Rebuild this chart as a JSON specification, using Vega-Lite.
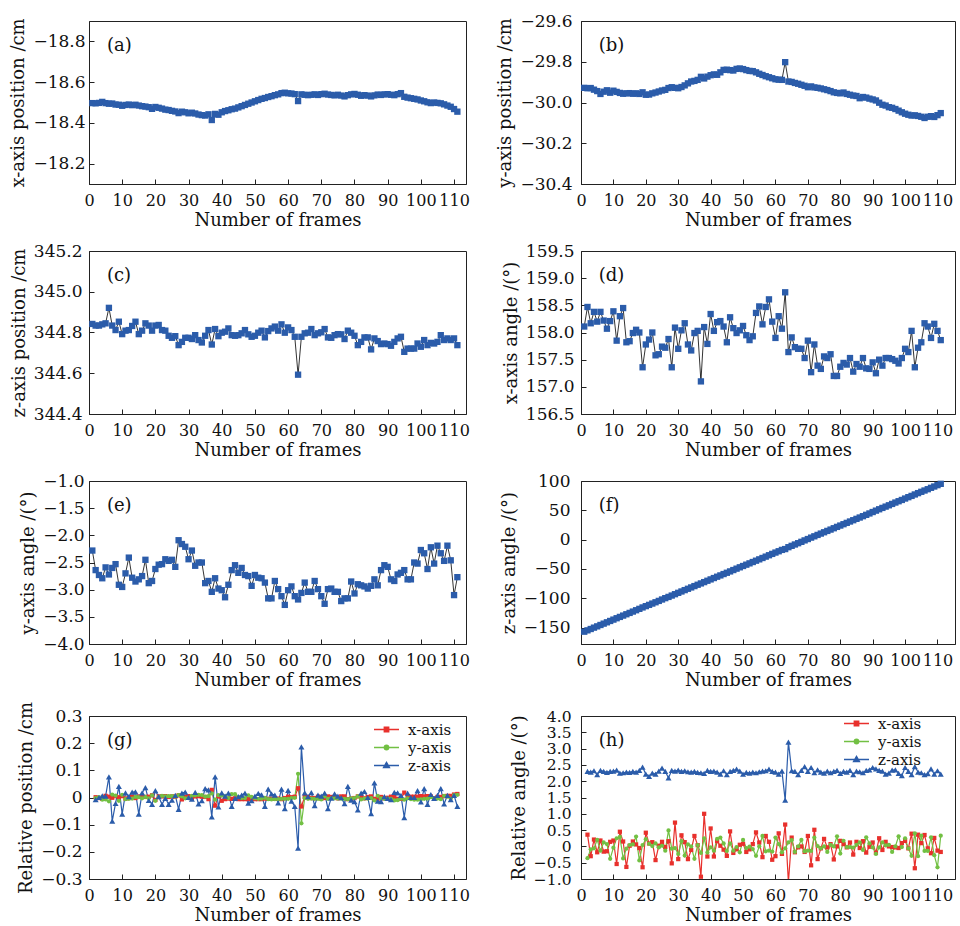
{
"$schema":"https://vega.github.io/schema/vega-lite/v6.json",
"padding":{"left":9,"top":11,"right":3,"bottom":0},
"background":"white",
"datasets":{
"pose":[
{"frame":1,"xpos":-18.497,"ypos":-29.928,"zpos":344.842,"xang":158.11,"yang":-2.28,"zang":-157.00},
{"frame":2,"xpos":-18.496,"ypos":-29.930,"zpos":344.834,"xang":158.47,"yang":-2.64,"zang":-154.70},
{"frame":3,"xpos":-18.498,"ypos":-29.929,"zpos":344.834,"xang":158.17,"yang":-2.73,"zang":-152.42},
{"frame":4,"xpos":-18.503,"ypos":-29.937,"zpos":344.840,"xang":158.38,"yang":-2.79,"zang":-150.10},
{"frame":5,"xpos":-18.497,"ypos":-29.944,"zpos":344.845,"xang":158.20,"yang":-2.59,"zang":-147.90},
{"frame":6,"xpos":-18.494,"ypos":-29.958,"zpos":344.921,"xang":158.38,"yang":-2.72,"zang":-145.57},
{"frame":7,"xpos":-18.495,"ypos":-29.947,"zpos":344.834,"xang":158.22,"yang":-2.60,"zang":-143.27},
{"frame":8,"xpos":-18.490,"ypos":-29.940,"zpos":344.812,"xang":158.07,"yang":-2.53,"zang":-141.00},
{"frame":9,"xpos":-18.489,"ypos":-29.952,"zpos":344.853,"xang":158.21,"yang":-2.91,"zang":-138.70},
{"frame":10,"xpos":-18.484,"ypos":-29.942,"zpos":344.792,"xang":158.39,"yang":-2.95,"zang":-136.39},
{"frame":11,"xpos":-18.488,"ypos":-29.948,"zpos":344.809,"xang":157.85,"yang":-2.70,"zang":-134.05},
{"frame":12,"xpos":-18.490,"ypos":-29.953,"zpos":344.812,"xang":158.30,"yang":-2.41,"zang":-131.80},
{"frame":13,"xpos":-18.487,"ypos":-29.957,"zpos":344.832,"xang":158.45,"yang":-2.78,"zang":-129.54},
{"frame":14,"xpos":-18.489,"ypos":-29.955,"zpos":344.853,"xang":157.82,"yang":-2.85,"zang":-127.26},
{"frame":15,"xpos":-18.485,"ypos":-29.954,"zpos":344.792,"xang":157.84,"yang":-2.81,"zang":-124.99},
{"frame":16,"xpos":-18.482,"ypos":-29.957,"zpos":344.809,"xang":157.99,"yang":-2.75,"zang":-122.69},
{"frame":17,"xpos":-18.480,"ypos":-29.955,"zpos":344.845,"xang":158.05,"yang":-2.45,"zang":-120.41},
{"frame":18,"xpos":-18.477,"ypos":-29.958,"zpos":344.834,"xang":158.00,"yang":-2.88,"zang":-118.08},
{"frame":19,"xpos":-18.469,"ypos":-29.950,"zpos":344.809,"xang":157.36,"yang":-2.84,"zang":-115.65},
{"frame":20,"xpos":-18.478,"ypos":-29.962,"zpos":344.834,"xang":157.78,"yang":-2.62,"zang":-113.43},
{"frame":21,"xpos":-18.474,"ypos":-29.961,"zpos":344.837,"xang":157.87,"yang":-2.54,"zang":-111.28},
{"frame":22,"xpos":-18.470,"ypos":-29.955,"zpos":344.812,"xang":158.00,"yang":-2.53,"zang":-109.03},
{"frame":23,"xpos":-18.465,"ypos":-29.951,"zpos":344.809,"xang":157.58,"yang":-2.44,"zang":-106.81},
{"frame":24,"xpos":-18.463,"ypos":-29.946,"zpos":344.784,"xang":157.60,"yang":-2.47,"zang":-104.50},
{"frame":25,"xpos":-18.459,"ypos":-29.941,"zpos":344.774,"xang":157.74,"yang":-2.45,"zang":-102.10},
{"frame":26,"xpos":-18.456,"ypos":-29.938,"zpos":344.782,"xang":157.72,"yang":-2.58,"zang":-99.80},
{"frame":27,"xpos":-18.448,"ypos":-29.929,"zpos":344.738,"xang":157.88,"yang":-2.09,"zang":-97.70},
{"frame":28,"xpos":-18.455,"ypos":-29.925,"zpos":344.754,"xang":157.36,"yang":-2.16,"zang":-95.37},
{"frame":29,"xpos":-18.452,"ypos":-29.928,"zpos":344.774,"xang":158.09,"yang":-2.21,"zang":-93.06},
{"frame":30,"xpos":-18.447,"ypos":-29.930,"zpos":344.774,"xang":157.70,"yang":-2.44,"zang":-90.72},
{"frame":31,"xpos":-18.450,"ypos":-29.924,"zpos":344.768,"xang":158.04,"yang":-2.28,"zang":-88.42},
{"frame":32,"xpos":-18.446,"ypos":-29.916,"zpos":344.787,"xang":158.17,"yang":-2.56,"zang":-86.10},
{"frame":33,"xpos":-18.441,"ypos":-29.906,"zpos":344.763,"xang":157.78,"yang":-2.50,"zang":-83.81},
{"frame":34,"xpos":-18.438,"ypos":-29.897,"zpos":344.751,"xang":157.67,"yang":-2.50,"zang":-81.53},
{"frame":35,"xpos":-18.436,"ypos":-29.894,"zpos":344.784,"xang":157.99,"yang":-2.88,"zang":-79.23},
{"frame":36,"xpos":-18.442,"ypos":-29.889,"zpos":344.812,"xang":158.03,"yang":-2.84,"zang":-76.96},
{"frame":37,"xpos":-18.414,"ypos":-29.874,"zpos":344.741,"xang":157.10,"yang":-3.04,"zang":-74.70},
{"frame":38,"xpos":-18.444,"ypos":-29.882,"zpos":344.817,"xang":158.10,"yang":-2.79,"zang":-72.46},
{"frame":39,"xpos":-18.440,"ypos":-29.873,"zpos":344.782,"xang":157.79,"yang":-2.98,"zang":-70.13},
{"frame":40,"xpos":-18.452,"ypos":-29.866,"zpos":344.799,"xang":158.34,"yang":-3.01,"zang":-67.83},
{"frame":41,"xpos":-18.458,"ypos":-29.862,"zpos":344.804,"xang":158.03,"yang":-3.14,"zang":-65.52},
{"frame":42,"xpos":-18.462,"ypos":-29.864,"zpos":344.820,"xang":158.19,"yang":-2.91,"zang":-63.24},
{"frame":43,"xpos":-18.467,"ypos":-29.852,"zpos":344.787,"xang":158.21,"yang":-2.64,"zang":-61.02},
{"frame":44,"xpos":-18.470,"ypos":-29.840,"zpos":344.784,"xang":158.11,"yang":-2.55,"zang":-58.70},
{"frame":45,"xpos":-18.476,"ypos":-29.839,"zpos":344.787,"xang":157.82,"yang":-2.69,"zang":-56.50},
{"frame":46,"xpos":-18.482,"ypos":-29.841,"zpos":344.796,"xang":158.28,"yang":-2.60,"zang":-54.20},
{"frame":47,"xpos":-18.488,"ypos":-29.843,"zpos":344.812,"xang":158.08,"yang":-2.73,"zang":-51.87},
{"frame":48,"xpos":-18.494,"ypos":-29.835,"zpos":344.791,"xang":157.99,"yang":-2.75,"zang":-49.50},
{"frame":49,"xpos":-18.500,"ypos":-29.833,"zpos":344.779,"xang":158.04,"yang":-2.93,"zang":-47.19},
{"frame":50,"xpos":-18.506,"ypos":-29.836,"zpos":344.784,"xang":158.12,"yang":-2.73,"zang":-44.97},
{"frame":51,"xpos":-18.512,"ypos":-29.841,"zpos":344.799,"xang":157.95,"yang":-2.78,"zang":-42.70},
{"frame":52,"xpos":-18.518,"ypos":-29.845,"zpos":344.809,"xang":157.86,"yang":-2.79,"zang":-40.45},
{"frame":53,"xpos":-18.522,"ypos":-29.846,"zpos":344.776,"xang":157.93,"yang":-2.87,"zang":-38.17},
{"frame":54,"xpos":-18.527,"ypos":-29.852,"zpos":344.807,"xang":158.36,"yang":-3.16,"zang":-35.91},
{"frame":55,"xpos":-18.531,"ypos":-29.859,"zpos":344.820,"xang":158.48,"yang":-3.16,"zang":-33.62},
{"frame":56,"xpos":-18.536,"ypos":-29.865,"zpos":344.829,"xang":158.15,"yang":-2.84,"zang":-31.31},
{"frame":57,"xpos":-18.540,"ypos":-29.871,"zpos":344.809,"xang":158.47,"yang":-2.99,"zang":-28.99},
{"frame":58,"xpos":-18.546,"ypos":-29.876,"zpos":344.840,"xang":158.61,"yang":-3.12,"zang":-26.62},
{"frame":59,"xpos":-18.548,"ypos":-29.881,"zpos":344.799,"xang":158.20,"yang":-3.28,"zang":-24.32},
{"frame":60,"xpos":-18.545,"ypos":-29.886,"zpos":344.825,"xang":157.90,"yang":-3.01,"zang":-22.04},
{"frame":61,"xpos":-18.544,"ypos":-29.888,"zpos":344.812,"xang":158.30,"yang":-2.94,"zang":-19.82},
{"frame":62,"xpos":-18.541,"ypos":-29.889,"zpos":344.779,"xang":158.07,"yang":-3.12,"zang":-17.51},
{"frame":63,"xpos":-18.507,"ypos":-29.802,"zpos":344.593,"xang":158.74,"yang":-3.18,"zang":-16.09},
{"frame":64,"xpos":-18.540,"ypos":-29.897,"zpos":344.779,"xang":157.64,"yang":-3.06,"zang":-12.89},
{"frame":65,"xpos":-18.538,"ypos":-29.899,"zpos":344.796,"xang":157.91,"yang":-2.87,"zang":-10.57},
{"frame":66,"xpos":-18.536,"ypos":-29.904,"zpos":344.799,"xang":157.73,"yang":-3.04,"zang":-8.27},
{"frame":67,"xpos":-18.538,"ypos":-29.908,"zpos":344.817,"xang":157.70,"yang":-3.04,"zang":-6.07},
{"frame":68,"xpos":-18.540,"ypos":-29.913,"zpos":344.787,"xang":157.70,"yang":-2.84,"zang":-3.74},
{"frame":69,"xpos":-18.537,"ypos":-29.918,"zpos":344.796,"xang":157.53,"yang":-2.99,"zang":-1.29},
{"frame":70,"xpos":-18.541,"ypos":-29.925,"zpos":344.801,"xang":157.85,"yang":-3.12,"zang":1.01},
{"frame":71,"xpos":-18.543,"ypos":-29.921,"zpos":344.817,"xang":157.27,"yang":-3.26,"zang":3.43},
{"frame":72,"xpos":-18.539,"ypos":-29.926,"zpos":344.776,"xang":157.78,"yang":-2.99,"zang":5.69},
{"frame":73,"xpos":-18.537,"ypos":-29.928,"zpos":344.774,"xang":157.39,"yang":-2.98,"zang":8.04},
{"frame":74,"xpos":-18.535,"ypos":-29.931,"zpos":344.787,"xang":157.33,"yang":-3.04,"zang":10.32},
{"frame":75,"xpos":-18.538,"ypos":-29.935,"zpos":344.792,"xang":157.56,"yang":-3.04,"zang":12.57},
{"frame":76,"xpos":-18.534,"ypos":-29.939,"zpos":344.791,"xang":157.53,"yang":-3.21,"zang":14.88},
{"frame":77,"xpos":-18.530,"ypos":-29.944,"zpos":344.768,"xang":157.60,"yang":-3.16,"zang":17.14},
{"frame":78,"xpos":-18.536,"ypos":-29.950,"zpos":344.809,"xang":157.20,"yang":-3.16,"zang":19.44},
{"frame":79,"xpos":-18.540,"ypos":-29.953,"zpos":344.799,"xang":157.20,"yang":-2.85,"zang":21.77},
{"frame":80,"xpos":-18.542,"ypos":-29.955,"zpos":344.784,"xang":157.37,"yang":-3.07,"zang":24.01},
{"frame":81,"xpos":-18.538,"ypos":-29.951,"zpos":344.738,"xang":157.44,"yang":-2.90,"zang":26.31},
{"frame":82,"xpos":-18.533,"ypos":-29.958,"zpos":344.754,"xang":157.41,"yang":-2.92,"zang":28.59},
{"frame":83,"xpos":-18.536,"ypos":-29.962,"zpos":344.776,"xang":157.53,"yang":-2.94,"zang":30.92},
{"frame":84,"xpos":-18.534,"ypos":-29.966,"zpos":344.776,"xang":157.28,"yang":-2.98,"zang":33.12},
{"frame":85,"xpos":-18.530,"ypos":-29.968,"zpos":344.717,"xang":157.42,"yang":-2.93,"zang":35.43},
{"frame":86,"xpos":-18.535,"ypos":-29.979,"zpos":344.771,"xang":157.37,"yang":-2.81,"zang":37.72},
{"frame":87,"xpos":-18.539,"ypos":-29.973,"zpos":344.758,"xang":157.53,"yang":-2.92,"zang":39.98},
{"frame":88,"xpos":-18.537,"ypos":-29.976,"zpos":344.743,"xang":157.34,"yang":-2.64,"zang":42.31},
{"frame":89,"xpos":-18.540,"ypos":-29.981,"zpos":344.746,"xang":157.33,"yang":-2.55,"zang":44.66},
{"frame":90,"xpos":-18.541,"ypos":-29.985,"zpos":344.743,"xang":157.45,"yang":-2.58,"zang":47.08},
{"frame":91,"xpos":-18.538,"ypos":-29.990,"zpos":344.735,"xang":157.25,"yang":-2.81,"zang":49.46},
{"frame":92,"xpos":-18.536,"ypos":-30.001,"zpos":344.754,"xang":157.50,"yang":-2.84,"zang":51.79},
{"frame":93,"xpos":-18.541,"ypos":-30.011,"zpos":344.771,"xang":157.39,"yang":-2.72,"zang":54.10},
{"frame":94,"xpos":-18.546,"ypos":-30.015,"zpos":344.779,"xang":157.53,"yang":-2.69,"zang":56.32},
{"frame":95,"xpos":-18.528,"ypos":-30.023,"zpos":344.705,"xang":157.53,"yang":-2.64,"zang":58.57},
{"frame":96,"xpos":-18.524,"ypos":-30.026,"zpos":344.721,"xang":157.51,"yang":-2.81,"zang":60.91},
{"frame":97,"xpos":-18.521,"ypos":-30.032,"zpos":344.721,"xang":157.48,"yang":-2.81,"zang":63.26},
{"frame":98,"xpos":-18.518,"ypos":-30.040,"zpos":344.721,"xang":157.43,"yang":-2.50,"zang":65.50},
{"frame":99,"xpos":-18.515,"ypos":-30.048,"zpos":344.746,"xang":157.53,"yang":-2.52,"zang":67.67},
{"frame":100,"xpos":-18.510,"ypos":-30.055,"zpos":344.730,"xang":157.70,"yang":-2.27,"zang":70.09},
{"frame":101,"xpos":-18.506,"ypos":-30.060,"zpos":344.763,"xang":157.64,"yang":-2.33,"zang":72.39},
{"frame":102,"xpos":-18.501,"ypos":-30.064,"zpos":344.738,"xang":158.03,"yang":-2.62,"zang":74.59},
{"frame":103,"xpos":-18.497,"ypos":-30.063,"zpos":344.749,"xang":157.36,"yang":-2.22,"zang":77.04},
{"frame":104,"xpos":-18.500,"ypos":-30.066,"zpos":344.746,"xang":157.72,"yang":-2.52,"zang":79.32},
{"frame":105,"xpos":-18.498,"ypos":-30.070,"zpos":344.754,"xang":157.82,"yang":-2.19,"zang":81.58},
{"frame":106,"xpos":-18.496,"ypos":-30.076,"zpos":344.787,"xang":158.17,"yang":-2.33,"zang":83.78},
{"frame":107,"xpos":-18.491,"ypos":-30.070,"zpos":344.763,"xang":158.11,"yang":-2.47,"zang":86.01},
{"frame":108,"xpos":-18.485,"ypos":-30.067,"zpos":344.771,"xang":157.90,"yang":-2.19,"zang":88.39},
{"frame":109,"xpos":-18.479,"ypos":-30.071,"zpos":344.763,"xang":158.16,"yang":-2.46,"zang":90.61},
{"frame":110,"xpos":-18.468,"ypos":-30.062,"zpos":344.771,"xang":158.03,"yang":-3.10,"zang":92.93},
{"frame":111,"xpos":-18.455,"ypos":-30.052,"zpos":344.738,"xang":157.86,"yang":-2.77,"zang":95.15}
],
"rel":[
{"frame":2,"axis":"x-axis","pos":0.001,"ang":0.36},{"frame":3,"axis":"x-axis","pos":-0.002,"ang":-0.30},{"frame":4,"axis":"x-axis","pos":-0.005,"ang":0.21},{"frame":5,"axis":"x-axis","pos":0.006,"ang":-0.18},{"frame":6,"axis":"x-axis","pos":0.003,"ang":0.18},{"frame":7,"axis":"x-axis","pos":-0.001,"ang":-0.16},{"frame":8,"axis":"x-axis","pos":0.005,"ang":-0.15},{"frame":9,"axis":"x-axis","pos":0.001,"ang":0.14},{"frame":10,"axis":"x-axis","pos":0.005,"ang":0.18},
{"frame":11,"axis":"x-axis","pos":-0.004,"ang":-0.54},{"frame":12,"axis":"x-axis","pos":-0.002,"ang":0.45},{"frame":13,"axis":"x-axis","pos":0.003,"ang":0.15},{"frame":14,"axis":"x-axis","pos":-0.002,"ang":-0.63},{"frame":15,"axis":"x-axis","pos":0.004,"ang":0.02},{"frame":16,"axis":"x-axis","pos":0.003,"ang":0.15},{"frame":17,"axis":"x-axis","pos":0.002,"ang":0.06},{"frame":18,"axis":"x-axis","pos":0.003,"ang":-0.05},{"frame":19,"axis":"x-axis","pos":0.008,"ang":-0.64},{"frame":20,"axis":"x-axis","pos":-0.009,"ang":0.42},
{"frame":21,"axis":"x-axis","pos":0.004,"ang":0.09},{"frame":22,"axis":"x-axis","pos":0.004,"ang":0.13},{"frame":23,"axis":"x-axis","pos":0.005,"ang":-0.42},{"frame":24,"axis":"x-axis","pos":0.002,"ang":0.02},{"frame":25,"axis":"x-axis","pos":0.004,"ang":0.14},{"frame":26,"axis":"x-axis","pos":0.003,"ang":-0.02},{"frame":27,"axis":"x-axis","pos":0.008,"ang":0.16},{"frame":28,"axis":"x-axis","pos":-0.007,"ang":-0.52},{"frame":29,"axis":"x-axis","pos":0.003,"ang":0.73},{"frame":30,"axis":"x-axis","pos":0.005,"ang":-0.39},
{"frame":31,"axis":"x-axis","pos":-0.003,"ang":0.34},{"frame":32,"axis":"x-axis","pos":0.004,"ang":0.13},{"frame":33,"axis":"x-axis","pos":0.005,"ang":-0.39},{"frame":34,"axis":"x-axis","pos":0.003,"ang":-0.11},{"frame":35,"axis":"x-axis","pos":0.002,"ang":0.32},{"frame":36,"axis":"x-axis","pos":-0.006,"ang":0.04},{"frame":37,"axis":"x-axis","pos":0.028,"ang":-0.93},{"frame":38,"axis":"x-axis","pos":-0.030,"ang":1.00},{"frame":39,"axis":"x-axis","pos":0.004,"ang":-0.31},{"frame":40,"axis":"x-axis","pos":-0.012,"ang":0.55},
{"frame":41,"axis":"x-axis","pos":-0.006,"ang":-0.31},{"frame":42,"axis":"x-axis","pos":-0.004,"ang":0.16},{"frame":43,"axis":"x-axis","pos":-0.005,"ang":0.02},{"frame":44,"axis":"x-axis","pos":-0.003,"ang":-0.10},{"frame":45,"axis":"x-axis","pos":-0.006,"ang":-0.29},{"frame":46,"axis":"x-axis","pos":-0.006,"ang":0.46},{"frame":47,"axis":"x-axis","pos":-0.006,"ang":-0.20},{"frame":48,"axis":"x-axis","pos":-0.006,"ang":-0.09},{"frame":49,"axis":"x-axis","pos":-0.006,"ang":0.05},{"frame":50,"axis":"x-axis","pos":-0.006,"ang":0.08},
{"frame":51,"axis":"x-axis","pos":-0.006,"ang":-0.17},{"frame":52,"axis":"x-axis","pos":-0.006,"ang":-0.09},{"frame":53,"axis":"x-axis","pos":-0.004,"ang":0.07},{"frame":54,"axis":"x-axis","pos":-0.005,"ang":0.43},{"frame":55,"axis":"x-axis","pos":-0.004,"ang":0.12},{"frame":56,"axis":"x-axis","pos":-0.005,"ang":-0.33},{"frame":57,"axis":"x-axis","pos":-0.004,"ang":0.32},{"frame":58,"axis":"x-axis","pos":-0.006,"ang":0.14},{"frame":59,"axis":"x-axis","pos":-0.002,"ang":-0.41},{"frame":60,"axis":"x-axis","pos":0.003,"ang":-0.30},
{"frame":61,"axis":"x-axis","pos":0.001,"ang":0.40},{"frame":62,"axis":"x-axis","pos":0.003,"ang":-0.23},{"frame":63,"axis":"x-axis","pos":0.034,"ang":0.67},{"frame":64,"axis":"x-axis","pos":-0.033,"ang":-1.10},{"frame":65,"axis":"x-axis","pos":0.002,"ang":0.27},{"frame":66,"axis":"x-axis","pos":0.002,"ang":-0.18},{"frame":67,"axis":"x-axis","pos":-0.002,"ang":-0.03},{"frame":68,"axis":"x-axis","pos":-0.002,"ang":0.00},{"frame":69,"axis":"x-axis","pos":0.003,"ang":-0.17},{"frame":70,"axis":"x-axis","pos":-0.004,"ang":0.32},
{"frame":71,"axis":"x-axis","pos":-0.002,"ang":-0.58},{"frame":72,"axis":"x-axis","pos":0.004,"ang":0.51},{"frame":73,"axis":"x-axis","pos":0.002,"ang":-0.39},{"frame":74,"axis":"x-axis","pos":0.002,"ang":-0.06},{"frame":75,"axis":"x-axis","pos":-0.003,"ang":0.23},{"frame":76,"axis":"x-axis","pos":0.004,"ang":-0.03},{"frame":77,"axis":"x-axis","pos":0.004,"ang":0.07},{"frame":78,"axis":"x-axis","pos":-0.006,"ang":-0.40},{"frame":79,"axis":"x-axis","pos":-0.004,"ang":0.00},{"frame":80,"axis":"x-axis","pos":-0.002,"ang":0.17},
{"frame":81,"axis":"x-axis","pos":0.004,"ang":0.07},{"frame":82,"axis":"x-axis","pos":0.005,"ang":-0.03},{"frame":83,"axis":"x-axis","pos":-0.003,"ang":0.12},{"frame":84,"axis":"x-axis","pos":0.002,"ang":-0.25},{"frame":85,"axis":"x-axis","pos":0.004,"ang":0.14},{"frame":86,"axis":"x-axis","pos":-0.005,"ang":-0.05},{"frame":87,"axis":"x-axis","pos":-0.004,"ang":0.16},{"frame":88,"axis":"x-axis","pos":0.002,"ang":-0.19},{"frame":89,"axis":"x-axis","pos":-0.003,"ang":-0.01},{"frame":90,"axis":"x-axis","pos":-0.001,"ang":0.12},
{"frame":91,"axis":"x-axis","pos":0.003,"ang":-0.20},{"frame":92,"axis":"x-axis","pos":0.002,"ang":0.25},{"frame":93,"axis":"x-axis","pos":-0.005,"ang":-0.11},{"frame":94,"axis":"x-axis","pos":-0.005,"ang":0.14},{"frame":95,"axis":"x-axis","pos":0.018,"ang":0.00},{"frame":96,"axis":"x-axis","pos":0.004,"ang":-0.02},{"frame":97,"axis":"x-axis","pos":0.003,"ang":-0.03},{"frame":98,"axis":"x-axis","pos":0.003,"ang":-0.05},{"frame":99,"axis":"x-axis","pos":0.003,"ang":0.10},{"frame":100,"axis":"x-axis","pos":0.005,"ang":0.17},
{"frame":101,"axis":"x-axis","pos":0.004,"ang":-0.06},{"frame":102,"axis":"x-axis","pos":0.005,"ang":0.39},{"frame":103,"axis":"x-axis","pos":0.004,"ang":-0.67},{"frame":104,"axis":"x-axis","pos":-0.003,"ang":0.36},{"frame":105,"axis":"x-axis","pos":0.002,"ang":0.10},{"frame":106,"axis":"x-axis","pos":0.002,"ang":0.35},{"frame":107,"axis":"x-axis","pos":0.005,"ang":-0.06},{"frame":108,"axis":"x-axis","pos":0.006,"ang":-0.21},{"frame":109,"axis":"x-axis","pos":0.006,"ang":0.26},{"frame":110,"axis":"x-axis","pos":0.011,"ang":-0.13},
{"frame":111,"axis":"x-axis","pos":0.013,"ang":-0.17},
{"frame":2,"axis":"y-axis","pos":-0.002,"ang":-0.36},{"frame":3,"axis":"y-axis","pos":0.001,"ang":-0.09},{"frame":4,"axis":"y-axis","pos":-0.008,"ang":-0.06},{"frame":5,"axis":"y-axis","pos":-0.007,"ang":0.20},{"frame":6,"axis":"y-axis","pos":-0.014,"ang":-0.13},{"frame":7,"axis":"y-axis","pos":0.011,"ang":0.12},{"frame":8,"axis":"y-axis","pos":0.007,"ang":0.07},{"frame":9,"axis":"y-axis","pos":-0.012,"ang":-0.38},{"frame":10,"axis":"y-axis","pos":0.010,"ang":-0.04},
{"frame":11,"axis":"y-axis","pos":-0.006,"ang":0.25},{"frame":12,"axis":"y-axis","pos":-0.005,"ang":0.29},{"frame":13,"axis":"y-axis","pos":-0.004,"ang":-0.37},{"frame":14,"axis":"y-axis","pos":0.002,"ang":-0.07},{"frame":15,"axis":"y-axis","pos":0.001,"ang":0.04},{"frame":16,"axis":"y-axis","pos":-0.003,"ang":0.06},{"frame":17,"axis":"y-axis","pos":0.002,"ang":0.30},{"frame":18,"axis":"y-axis","pos":-0.003,"ang":-0.43},{"frame":19,"axis":"y-axis","pos":0.008,"ang":0.04},{"frame":20,"axis":"y-axis","pos":-0.012,"ang":0.22},
{"frame":21,"axis":"y-axis","pos":0.001,"ang":0.08},{"frame":22,"axis":"y-axis","pos":0.006,"ang":0.01},{"frame":23,"axis":"y-axis","pos":0.004,"ang":0.09},{"frame":24,"axis":"y-axis","pos":0.005,"ang":-0.03},{"frame":25,"axis":"y-axis","pos":0.005,"ang":0.02},{"frame":26,"axis":"y-axis","pos":0.003,"ang":-0.13},{"frame":27,"axis":"y-axis","pos":0.009,"ang":0.49},{"frame":28,"axis":"y-axis","pos":0.004,"ang":-0.07},{"frame":29,"axis":"y-axis","pos":-0.003,"ang":-0.05},{"frame":30,"axis":"y-axis","pos":-0.002,"ang":-0.23},
{"frame":31,"axis":"y-axis","pos":0.006,"ang":0.16},{"frame":32,"axis":"y-axis","pos":0.008,"ang":-0.28},{"frame":33,"axis":"y-axis","pos":0.010,"ang":0.06},{"frame":34,"axis":"y-axis","pos":0.009,"ang":0.00},{"frame":35,"axis":"y-axis","pos":0.003,"ang":-0.38},{"frame":36,"axis":"y-axis","pos":0.005,"ang":0.04},{"frame":37,"axis":"y-axis","pos":0.015,"ang":-0.20},{"frame":38,"axis":"y-axis","pos":-0.008,"ang":0.25},{"frame":39,"axis":"y-axis","pos":0.009,"ang":-0.19},{"frame":40,"axis":"y-axis","pos":0.007,"ang":-0.03},
{"frame":41,"axis":"y-axis","pos":0.004,"ang":-0.13},{"frame":42,"axis":"y-axis","pos":-0.002,"ang":0.23},{"frame":43,"axis":"y-axis","pos":0.012,"ang":0.27},{"frame":44,"axis":"y-axis","pos":0.012,"ang":0.09},{"frame":45,"axis":"y-axis","pos":0.001,"ang":-0.14},{"frame":46,"axis":"y-axis","pos":-0.002,"ang":0.09},{"frame":47,"axis":"y-axis","pos":-0.002,"ang":-0.13},{"frame":48,"axis":"y-axis","pos":0.008,"ang":-0.02},{"frame":49,"axis":"y-axis","pos":0.002,"ang":-0.18},{"frame":50,"axis":"y-axis","pos":-0.003,"ang":0.20},
{"frame":51,"axis":"y-axis","pos":-0.005,"ang":-0.05},{"frame":52,"axis":"y-axis","pos":-0.004,"ang":-0.01},{"frame":53,"axis":"y-axis","pos":-0.001,"ang":-0.08},{"frame":54,"axis":"y-axis","pos":-0.006,"ang":-0.29},{"frame":55,"axis":"y-axis","pos":-0.007,"ang":0.00},{"frame":56,"axis":"y-axis","pos":-0.006,"ang":0.32},{"frame":57,"axis":"y-axis","pos":-0.006,"ang":-0.15},{"frame":58,"axis":"y-axis","pos":-0.005,"ang":-0.13},{"frame":59,"axis":"y-axis","pos":-0.005,"ang":-0.16},{"frame":60,"axis":"y-axis","pos":-0.005,"ang":0.27},
{"frame":61,"axis":"y-axis","pos":-0.002,"ang":0.07},{"frame":62,"axis":"y-axis","pos":-0.001,"ang":-0.18},{"frame":63,"axis":"y-axis","pos":0.087,"ang":-0.06},{"frame":64,"axis":"y-axis","pos":-0.095,"ang":0.12},{"frame":65,"axis":"y-axis","pos":-0.002,"ang":0.19},{"frame":66,"axis":"y-axis","pos":-0.005,"ang":-0.17},{"frame":67,"axis":"y-axis","pos":-0.004,"ang":0.00},{"frame":68,"axis":"y-axis","pos":-0.005,"ang":0.20},{"frame":69,"axis":"y-axis","pos":-0.005,"ang":-0.15},{"frame":70,"axis":"y-axis","pos":-0.007,"ang":-0.13},
{"frame":71,"axis":"y-axis","pos":0.004,"ang":-0.14},{"frame":72,"axis":"y-axis","pos":-0.005,"ang":0.27},{"frame":73,"axis":"y-axis","pos":-0.002,"ang":0.01},{"frame":74,"axis":"y-axis","pos":-0.003,"ang":-0.06},{"frame":75,"axis":"y-axis","pos":-0.004,"ang":0.00},{"frame":76,"axis":"y-axis","pos":-0.004,"ang":-0.17},{"frame":77,"axis":"y-axis","pos":-0.005,"ang":0.05},{"frame":78,"axis":"y-axis","pos":-0.006,"ang":0.00},{"frame":79,"axis":"y-axis","pos":-0.003,"ang":0.31},{"frame":80,"axis":"y-axis","pos":-0.002,"ang":-0.22},
{"frame":81,"axis":"y-axis","pos":0.004,"ang":0.17},{"frame":82,"axis":"y-axis","pos":-0.007,"ang":-0.02},{"frame":83,"axis":"y-axis","pos":-0.004,"ang":-0.02},{"frame":84,"axis":"y-axis","pos":-0.004,"ang":-0.04},{"frame":85,"axis":"y-axis","pos":-0.002,"ang":0.05},{"frame":86,"axis":"y-axis","pos":-0.011,"ang":0.12},{"frame":87,"axis":"y-axis","pos":0.006,"ang":-0.11},{"frame":88,"axis":"y-axis","pos":-0.003,"ang":0.28},{"frame":89,"axis":"y-axis","pos":-0.005,"ang":0.09},{"frame":90,"axis":"y-axis","pos":-0.004,"ang":-0.03},
{"frame":91,"axis":"y-axis","pos":-0.005,"ang":-0.23},{"frame":92,"axis":"y-axis","pos":-0.011,"ang":-0.03},{"frame":93,"axis":"y-axis","pos":-0.010,"ang":0.12},{"frame":94,"axis":"y-axis","pos":-0.004,"ang":0.03},{"frame":95,"axis":"y-axis","pos":-0.008,"ang":0.05},{"frame":96,"axis":"y-axis","pos":-0.003,"ang":-0.17},{"frame":97,"axis":"y-axis","pos":-0.006,"ang":0.00},{"frame":98,"axis":"y-axis","pos":-0.008,"ang":0.31},{"frame":99,"axis":"y-axis","pos":-0.008,"ang":-0.02},{"frame":100,"axis":"y-axis","pos":-0.007,"ang":0.25},
{"frame":101,"axis":"y-axis","pos":-0.005,"ang":-0.06},{"frame":102,"axis":"y-axis","pos":-0.004,"ang":-0.29},{"frame":103,"axis":"y-axis","pos":0.001,"ang":0.40},{"frame":104,"axis":"y-axis","pos":-0.003,"ang":-0.30},{"frame":105,"axis":"y-axis","pos":-0.004,"ang":0.33},{"frame":106,"axis":"y-axis","pos":-0.006,"ang":-0.14},{"frame":107,"axis":"y-axis","pos":0.006,"ang":-0.14},{"frame":108,"axis":"y-axis","pos":0.003,"ang":0.28},{"frame":109,"axis":"y-axis","pos":-0.004,"ang":-0.27},{"frame":110,"axis":"y-axis","pos":0.009,"ang":-0.64},
{"frame":111,"axis":"y-axis","pos":0.010,"ang":0.33},
{"frame":2,"axis":"z-axis","pos":-0.008,"ang":2.30},{"frame":3,"axis":"z-axis","pos":0.000,"ang":2.28},{"frame":4,"axis":"z-axis","pos":0.006,"ang":2.32},{"frame":5,"axis":"z-axis","pos":0.005,"ang":2.20},{"frame":6,"axis":"z-axis","pos":0.076,"ang":2.33},{"frame":7,"axis":"z-axis","pos":-0.087,"ang":2.30},{"frame":8,"axis":"z-axis","pos":-0.022,"ang":2.27},{"frame":9,"axis":"z-axis","pos":0.041,"ang":2.30},{"frame":10,"axis":"z-axis","pos":-0.061,"ang":2.31},
{"frame":11,"axis":"z-axis","pos":0.017,"ang":2.34},{"frame":12,"axis":"z-axis","pos":0.003,"ang":2.25},{"frame":13,"axis":"z-axis","pos":0.020,"ang":2.26},{"frame":14,"axis":"z-axis","pos":0.021,"ang":2.28},{"frame":15,"axis":"z-axis","pos":-0.061,"ang":2.27},{"frame":16,"axis":"z-axis","pos":0.017,"ang":2.30},{"frame":17,"axis":"z-axis","pos":0.036,"ang":2.28},{"frame":18,"axis":"z-axis","pos":-0.011,"ang":2.33},{"frame":19,"axis":"z-axis","pos":-0.025,"ang":2.43},{"frame":20,"axis":"z-axis","pos":0.025,"ang":2.22},
{"frame":21,"axis":"z-axis","pos":0.003,"ang":2.15},{"frame":22,"axis":"z-axis","pos":-0.025,"ang":2.25},{"frame":23,"axis":"z-axis","pos":-0.003,"ang":2.22},{"frame":24,"axis":"z-axis","pos":-0.025,"ang":2.31},{"frame":25,"axis":"z-axis","pos":-0.010,"ang":2.40},{"frame":26,"axis":"z-axis","pos":0.008,"ang":2.30},{"frame":27,"axis":"z-axis","pos":-0.044,"ang":2.10},{"frame":28,"axis":"z-axis","pos":0.016,"ang":2.33},{"frame":29,"axis":"z-axis","pos":0.020,"ang":2.31},{"frame":30,"axis":"z-axis","pos":0.000,"ang":2.34},
{"frame":31,"axis":"z-axis","pos":-0.006,"ang":2.30},{"frame":32,"axis":"z-axis","pos":0.019,"ang":2.32},{"frame":33,"axis":"z-axis","pos":-0.024,"ang":2.29},{"frame":34,"axis":"z-axis","pos":-0.012,"ang":2.28},{"frame":35,"axis":"z-axis","pos":0.033,"ang":2.30},{"frame":36,"axis":"z-axis","pos":0.028,"ang":2.27},{"frame":37,"axis":"z-axis","pos":-0.071,"ang":2.26},{"frame":38,"axis":"z-axis","pos":0.076,"ang":2.24},{"frame":39,"axis":"z-axis","pos":-0.035,"ang":2.33},{"frame":40,"axis":"z-axis","pos":0.017,"ang":2.30},
{"frame":41,"axis":"z-axis","pos":0.005,"ang":2.31},{"frame":42,"axis":"z-axis","pos":0.016,"ang":2.28},{"frame":43,"axis":"z-axis","pos":-0.033,"ang":2.22},{"frame":44,"axis":"z-axis","pos":-0.003,"ang":2.32},{"frame":45,"axis":"z-axis","pos":0.003,"ang":2.20},{"frame":46,"axis":"z-axis","pos":0.009,"ang":2.30},{"frame":47,"axis":"z-axis","pos":0.016,"ang":2.33},{"frame":48,"axis":"z-axis","pos":-0.021,"ang":2.37},{"frame":49,"axis":"z-axis","pos":-0.012,"ang":2.31},{"frame":50,"axis":"z-axis","pos":0.005,"ang":2.22},
{"frame":51,"axis":"z-axis","pos":0.015,"ang":2.27},{"frame":52,"axis":"z-axis","pos":0.010,"ang":2.25},{"frame":53,"axis":"z-axis","pos":-0.033,"ang":2.28},{"frame":54,"axis":"z-axis","pos":0.031,"ang":2.26},{"frame":55,"axis":"z-axis","pos":0.013,"ang":2.29},{"frame":56,"axis":"z-axis","pos":0.009,"ang":2.31},{"frame":57,"axis":"z-axis","pos":-0.020,"ang":2.32},{"frame":58,"axis":"z-axis","pos":0.031,"ang":2.37},{"frame":59,"axis":"z-axis","pos":-0.041,"ang":2.30},{"frame":60,"axis":"z-axis","pos":0.026,"ang":2.28},
{"frame":61,"axis":"z-axis","pos":-0.013,"ang":2.22},{"frame":62,"axis":"z-axis","pos":-0.033,"ang":2.31},{"frame":63,"axis":"z-axis","pos":-0.186,"ang":1.42},{"frame":64,"axis":"z-axis","pos":0.186,"ang":3.20},{"frame":65,"axis":"z-axis","pos":0.017,"ang":2.32},{"frame":66,"axis":"z-axis","pos":0.003,"ang":2.30},{"frame":67,"axis":"z-axis","pos":0.018,"ang":2.20},{"frame":68,"axis":"z-axis","pos":-0.030,"ang":2.33},{"frame":69,"axis":"z-axis","pos":0.009,"ang":2.45},{"frame":70,"axis":"z-axis","pos":0.005,"ang":2.30},
{"frame":71,"axis":"z-axis","pos":0.016,"ang":2.42},{"frame":72,"axis":"z-axis","pos":-0.041,"ang":2.26},{"frame":73,"axis":"z-axis","pos":-0.002,"ang":2.35},{"frame":74,"axis":"z-axis","pos":0.013,"ang":2.28},{"frame":75,"axis":"z-axis","pos":0.005,"ang":2.25},{"frame":76,"axis":"z-axis","pos":-0.001,"ang":2.31},{"frame":77,"axis":"z-axis","pos":-0.023,"ang":2.26},{"frame":78,"axis":"z-axis","pos":0.041,"ang":2.30},{"frame":79,"axis":"z-axis","pos":-0.010,"ang":2.33},{"frame":80,"axis":"z-axis","pos":-0.015,"ang":2.24},
{"frame":81,"axis":"z-axis","pos":-0.046,"ang":2.30},{"frame":82,"axis":"z-axis","pos":0.016,"ang":2.28},{"frame":83,"axis":"z-axis","pos":0.022,"ang":2.33},{"frame":84,"axis":"z-axis","pos":0.000,"ang":2.20},{"frame":85,"axis":"z-axis","pos":-0.059,"ang":2.31},{"frame":86,"axis":"z-axis","pos":0.054,"ang":2.29},{"frame":87,"axis":"z-axis","pos":-0.013,"ang":2.26},{"frame":88,"axis":"z-axis","pos":-0.015,"ang":2.33},{"frame":89,"axis":"z-axis","pos":0.003,"ang":2.35},{"frame":90,"axis":"z-axis","pos":-0.003,"ang":2.42},
{"frame":91,"axis":"z-axis","pos":-0.008,"ang":2.38},{"frame":92,"axis":"z-axis","pos":0.019,"ang":2.33},{"frame":93,"axis":"z-axis","pos":0.017,"ang":2.31},{"frame":94,"axis":"z-axis","pos":0.008,"ang":2.22},{"frame":95,"axis":"z-axis","pos":-0.074,"ang":2.25},{"frame":96,"axis":"z-axis","pos":0.016,"ang":2.34},{"frame":97,"axis":"z-axis","pos":0.000,"ang":2.35},{"frame":98,"axis":"z-axis","pos":0.000,"ang":2.24},{"frame":99,"axis":"z-axis","pos":0.025,"ang":2.17},{"frame":100,"axis":"z-axis","pos":-0.016,"ang":2.42},
{"frame":101,"axis":"z-axis","pos":0.033,"ang":2.30},{"frame":102,"axis":"z-axis","pos":-0.025,"ang":2.20},{"frame":103,"axis":"z-axis","pos":0.011,"ang":2.45},{"frame":104,"axis":"z-axis","pos":-0.003,"ang":2.28},{"frame":105,"axis":"z-axis","pos":0.008,"ang":2.26},{"frame":106,"axis":"z-axis","pos":0.033,"ang":2.20},{"frame":107,"axis":"z-axis","pos":-0.024,"ang":2.23},{"frame":108,"axis":"z-axis","pos":0.008,"ang":2.38},{"frame":109,"axis":"z-axis","pos":-0.008,"ang":2.22},{"frame":110,"axis":"z-axis","pos":0.008,"ang":2.32},
{"frame":111,"axis":"z-axis","pos":-0.033,"ang":2.22}
]
},
"columns":2,
"spacing":{"row":11,"column":26},
"resolve":{"scale":{"color":"independent"},"legend":{"color":"independent"}},
"concat":[
{"width":377,"height":163,"data":{"name":"pose"},
 "encoding":{"x":{"field":"frame","type":"quantitative","scale":{"domain":[0,113.6],"nice":false},"axis":{"values":[0,10,20,30,40,50,60,70,80,90,100,110],"title":"Number of frames"}},
  "y":{"field":"xpos","type":"quantitative","scale":{"domain":[-18.9,-18.1],"reverse":true,"nice":false,"zero":false},"axis":{"values":[-18.8,-18.6,-18.4,-18.2],"format":".1f","title":"x-axis position /cm","labelPadding":9}}},
 "layer":[
  {"mark":{"type":"line","color":"#000","strokeWidth":0.8},"encoding":{}},
  {"mark":{"type":"point","shape":"square","filled":true,"color":"#2b5caa","size":40,"opacity":1}},
  {"transform":[{"filter":"datum.frame == 1"}],"mark":{"type":"text","fontSize":18,"align":"left","baseline":"middle","color":"#111"},"encoding":{"x":{"datum":5.4,"type":"quantitative"},"y":{"datum":-18.777,"type":"quantitative"},"text":{"value":"(a)"}}}
 ]},
{"width":374,"height":163,"data":{"name":"pose"},
 "encoding":{"x":{"field":"frame","type":"quantitative","scale":{"domain":[0,115.4],"nice":false},"axis":{"values":[0,10,20,30,40,50,60,70,80,90,100,110],"title":"Number of frames"}},
  "y":{"field":"ypos","type":"quantitative","scale":{"domain":[-30.4,-29.6],"nice":false,"zero":false},"axis":{"values":[-30.4,-30.2,-30.0,-29.8,-29.6],"format":".1f","title":"y-axis position /cm","labelPadding":14}}},
 "layer":[
  {"mark":{"type":"line","color":"#000","strokeWidth":0.8},"encoding":{}},
  {"mark":{"type":"point","shape":"square","filled":true,"color":"#2b5caa","size":40,"opacity":1}},
  {"transform":[{"filter":"datum.frame == 1"}],"mark":{"type":"text","fontSize":18,"align":"left","baseline":"middle","color":"#111"},"encoding":{"x":{"datum":5.5,"type":"quantitative"},"y":{"datum":-29.723,"type":"quantitative"},"text":{"value":"(b)"}}}
 ]},
{"width":377,"height":163,"data":{"name":"pose"},
 "encoding":{"x":{"field":"frame","type":"quantitative","scale":{"domain":[0,113.6],"nice":false},"axis":{"values":[0,10,20,30,40,50,60,70,80,90,100,110],"title":"Number of frames"}},
  "y":{"field":"zpos","type":"quantitative","scale":{"domain":[344.4,345.2],"nice":false,"zero":false},"axis":{"values":[344.4,344.6,344.8,345.0,345.2],"format":".1f","title":"z-axis position /cm"}}},
 "layer":[
  {"mark":{"type":"line","color":"#000","strokeWidth":0.8},"encoding":{}},
  {"mark":{"type":"point","shape":"square","filled":true,"color":"#2b5caa","size":40,"opacity":1}},
  {"transform":[{"filter":"datum.frame == 1"}],"mark":{"type":"text","fontSize":18,"align":"left","baseline":"middle","color":"#111"},"encoding":{"x":{"datum":5.4,"type":"quantitative"},"y":{"datum":345.077,"type":"quantitative"},"text":{"value":"(c)"}}}
 ]},
{"width":374,"height":163,"data":{"name":"pose"},
 "encoding":{"x":{"field":"frame","type":"quantitative","scale":{"domain":[0,115.4],"nice":false},"axis":{"values":[0,10,20,30,40,50,60,70,80,90,100,110],"title":"Number of frames"}},
  "y":{"field":"xang","type":"quantitative","scale":{"domain":[156.5,159.5],"nice":false,"zero":false},"axis":{"values":[156.5,157,157.5,158,158.5,159,159.5],"format":".1f","title":"x-axis angle /(°)"}}},
 "layer":[
  {"mark":{"type":"line","color":"#000","strokeWidth":0.8},"encoding":{}},
  {"mark":{"type":"point","shape":"square","filled":true,"color":"#2b5caa","size":40,"opacity":1}},
  {"transform":[{"filter":"datum.frame == 1"}],"mark":{"type":"text","fontSize":18,"align":"left","baseline":"middle","color":"#111"},"encoding":{"x":{"datum":5.5,"type":"quantitative"},"y":{"datum":159.04,"type":"quantitative"},"text":{"value":"(d)"}}}
 ]},
{"width":377,"height":163,"data":{"name":"pose"},
 "encoding":{"x":{"field":"frame","type":"quantitative","scale":{"domain":[0,113.6],"nice":false},"axis":{"values":[0,10,20,30,40,50,60,70,80,90,100,110],"title":"Number of frames"}},
  "y":{"field":"yang","type":"quantitative","scale":{"domain":[-4,-1],"nice":false,"zero":false},"axis":{"values":[-4,-3.5,-3,-2.5,-2,-1.5,-1],"format":".1f","title":"y-axis angle /(°)","labelPadding":10}}},
 "layer":[
  {"mark":{"type":"line","color":"#000","strokeWidth":0.8},"encoding":{}},
  {"mark":{"type":"point","shape":"square","filled":true,"color":"#2b5caa","size":40,"opacity":1}},
  {"transform":[{"filter":"datum.frame == 1"}],"mark":{"type":"text","fontSize":18,"align":"left","baseline":"middle","color":"#111"},"encoding":{"x":{"datum":5.4,"type":"quantitative"},"y":{"datum":-1.46,"type":"quantitative"},"text":{"value":"(e)"}}}
 ]},
{"width":374,"height":163,"data":{"name":"pose"},
 "encoding":{"x":{"field":"frame","type":"quantitative","scale":{"domain":[0,115.4],"nice":false},"axis":{"values":[0,10,20,30,40,50,60,70,80,90,100,110],"title":"Number of frames"}},
  "y":{"field":"zang","type":"quantitative","scale":{"domain":[-178,100],"nice":false,"zero":false},"axis":{"values":[-150,-100,-50,0,50,100],"format":"d","title":"z-axis angle /(°)","labelPadding":16}}},
 "layer":[
  {"mark":{"type":"line","color":"#000","strokeWidth":0.8},"encoding":{}},
  {"mark":{"type":"point","shape":"square","filled":true,"color":"#2b5caa","size":40,"opacity":1}},
  {"transform":[{"filter":"datum.frame == 1"}],"mark":{"type":"text","fontSize":18,"align":"left","baseline":"middle","color":"#111"},"encoding":{"x":{"datum":5.5,"type":"quantitative"},"y":{"datum":57.5,"type":"quantitative"},"text":{"value":"(f)"}}}
 ]},
{"width":377,"height":163,"data":{"name":"rel"},
 "encoding":{"x":{"field":"frame","type":"quantitative","scale":{"domain":[0,113.6],"nice":false},"axis":{"values":[0,10,20,30,40,50,60,70,80,90,100,110],"title":"Number of frames"}},
  "y":{"field":"pos","type":"quantitative","scale":{"domain":[-0.3,0.3],"nice":false,"zero":false},"axis":{"values":[-0.3,-0.2,-0.1,0,0.1,0.2,0.3],"labelExpr":"datum.value == 0 ? '0' : format(datum.value, '.1f')","title":"Relative position /cm"}}},
 "layer":[
  {"mark":{"type":"line","strokeWidth":1.2},"encoding":{"color":{"field":"axis","type":"nominal","scale":{"domain":["x-axis","y-axis","z-axis"],"range":["#e8302c","#72c043","#2b5caa"]},"legend":{"title":null,"orient":"none","legendX":290,"legendY":6,"symbolSize":25,"symbolStrokeWidth":1.3,"labelOffset":14,"labelFontSize":15,"rowPadding":2,"encode":{"symbols":{"update":{"shape":{"signal":"datum.value === 'x-axis' ? 'M-5,0H5M-0.9,-0.9H0.9V0.9H-0.9Z' : datum.value === 'y-axis' ? 'M-5,0H5M-0.9,0A0.9,0.9,0,1,1,0.9,0A0.9,0.9,0,1,1,-0.9,0Z' : 'M-5,0H5M0,-1.3L1.2,0.8H-1.2Z'"},"fill":{"signal":"datum.value === 'x-axis' ? '#e8302c' : datum.value === 'y-axis' ? '#72c043' : '#2b5caa'"}}}}}}}},
  {"transform":[{"filter":"datum.axis == 'x-axis'"}],"mark":{"type":"point","shape":"square","filled":true,"color":"#e8302c","size":18,"opacity":1}},
  {"transform":[{"filter":"datum.axis == 'y-axis'"}],"mark":{"type":"point","shape":"circle","filled":true,"color":"#72c043","size":18,"opacity":1}},
  {"transform":[{"filter":"datum.axis == 'z-axis'"}],"mark":{"type":"point","shape":"triangle-up","filled":true,"color":"#2b5caa","size":36,"opacity":1}},
  {"transform":[{"filter":"datum.frame == 2 && datum.axis == 'x-axis'"}],"mark":{"type":"text","fontSize":18,"align":"left","baseline":"middle","color":"#111"},"encoding":{"x":{"datum":5.4,"type":"quantitative"},"y":{"datum":0.208,"type":"quantitative"},"text":{"value":"(g)"}}}
 ]},
{"width":374,"height":163,"data":{"name":"rel"},
 "encoding":{"x":{"field":"frame","type":"quantitative","scale":{"domain":[0,115.4],"nice":false},"axis":{"values":[0,10,20,30,40,50,60,70,80,90,100,110],"title":"Number of frames"}},
  "y":{"field":"ang","type":"quantitative","scale":{"domain":[-1,4],"nice":false,"zero":false},"axis":{"values":[-1,-0.5,0,0.5,1,1.5,2,2.5,3,3.5,4],"labelExpr":"datum.value == 0 ? '0' : format(datum.value, '.1f')","title":"Relative angle /(°)","labelFontSize":15.5,"labelPadding":15}}},
 "layer":[
  {"mark":{"type":"line","strokeWidth":1.2,"clip":true},"encoding":{"color":{"field":"axis","type":"nominal","scale":{"domain":["x-axis","y-axis","z-axis"],"range":["#e8302c","#72c043","#2b5caa"]},"legend":{"title":null,"orient":"none","legendX":268,"legendY":0,"symbolSize":25,"symbolStrokeWidth":1.3,"labelOffset":14,"labelFontSize":15,"rowPadding":2,"encode":{"symbols":{"update":{"shape":{"signal":"datum.value === 'x-axis' ? 'M-5,0H5M-0.9,-0.9H0.9V0.9H-0.9Z' : datum.value === 'y-axis' ? 'M-5,0H5M-0.9,0A0.9,0.9,0,1,1,0.9,0A0.9,0.9,0,1,1,-0.9,0Z' : 'M-5,0H5M0,-1.3L1.2,0.8H-1.2Z'"},"fill":{"signal":"datum.value === 'x-axis' ? '#e8302c' : datum.value === 'y-axis' ? '#72c043' : '#2b5caa'"}}}}}}}},
  {"transform":[{"filter":"datum.axis == 'x-axis'"}],"mark":{"type":"point","shape":"square","filled":true,"color":"#e8302c","size":18,"opacity":1,"clip":true}},
  {"transform":[{"filter":"datum.axis == 'y-axis'"}],"mark":{"type":"point","shape":"circle","filled":true,"color":"#72c043","size":18,"opacity":1,"clip":true}},
  {"transform":[{"filter":"datum.axis == 'z-axis'"}],"mark":{"type":"point","shape":"triangle-up","filled":true,"color":"#2b5caa","size":36,"opacity":1,"clip":true}},
  {"transform":[{"filter":"datum.frame == 2 && datum.axis == 'x-axis'"}],"mark":{"type":"text","fontSize":18,"align":"left","baseline":"middle","color":"#111"},"encoding":{"x":{"datum":5.5,"type":"quantitative"},"y":{"datum":3.235,"type":"quantitative"},"text":{"value":"(h)"}}}
 ]}
],
"config":{
 "font":"DejaVu Serif",
 "view":{"stroke":"#222","strokeWidth":1},
 "axis":{"grid":false,"domainColor":"#222","tickColor":"#222","tickSize":-5,"labelFontSize":17,"labelColor":"#111","titleFontSize":18,"titleFontWeight":"normal","titleColor":"#111","labelPadding":12,"labelFlush":false,"labelOverlap":false,"titlePadding":5,"labelFont":"DejaVu Serif","titleFont":"DejaVu Serif"},
 "axisX":{"labelPadding":13,"titlePadding":3,"labelFontSize":16},
 "legend":{"labelFontSize":15,"labelColor":"#111","labelFont":"DejaVu Serif","padding":0}
}
}
